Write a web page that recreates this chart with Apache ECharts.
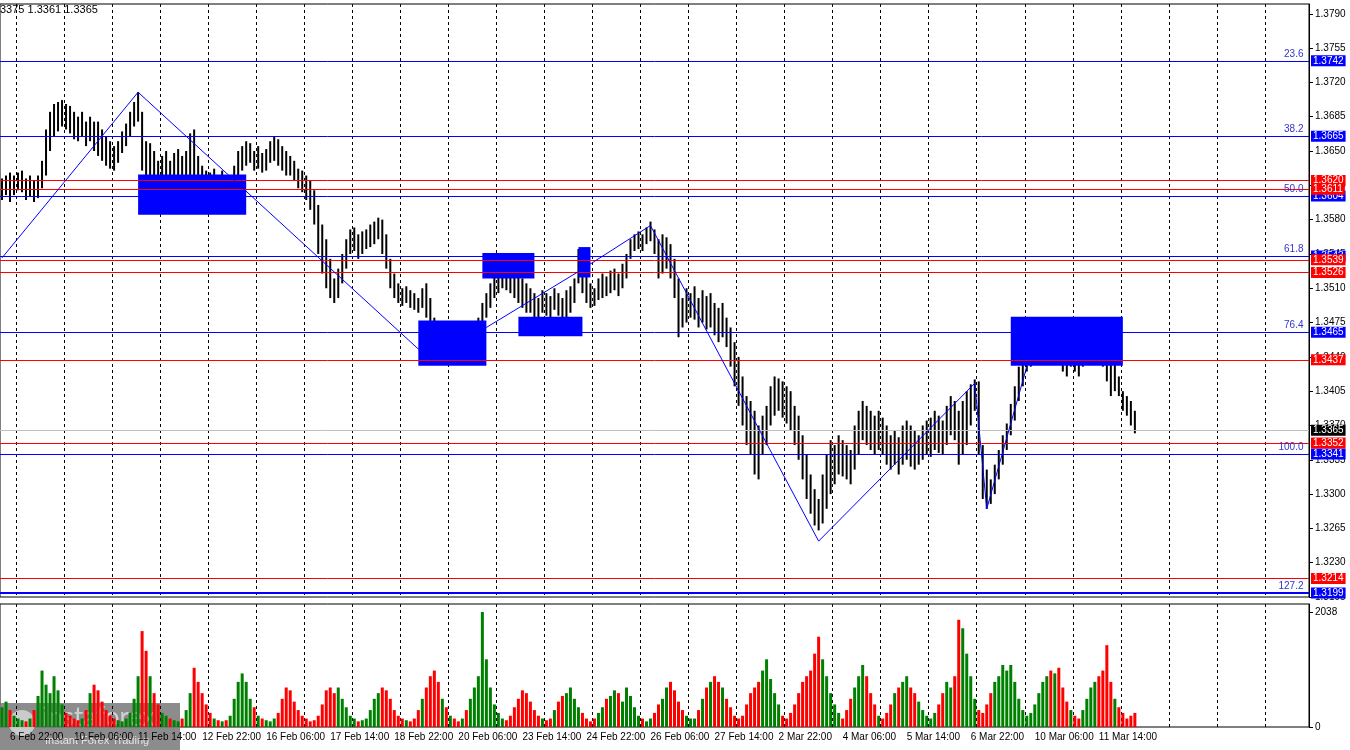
<!DOCTYPE html>
<html><head><meta charset="utf-8">
<script src="https://cdn.jsdelivr.net/npm/echarts@6/dist/echarts.min.js"></script>
<style>html,body{margin:0;padding:0;background:#fff}#c{width:1350px;height:750px}</style>
</head><body><div id="c"></div>
<script>
// bar highs / lows in pips above 1.3000
const highs = [
622,625,628,625,628,630,622,625,620,625,640,672,
690,698,700,702,698,696,690,685,690,680,685,680,
680,672,665,660,655,660,670,678,690,700,710,690,
660,658,650,640,645,650,640,648,652,645,650,668,
672,645,635,630,628,632,625,630,620,625,635,650,
655,660,658,650,655,648,652,660,665,662,655,650,
645,640,632,630,625,620,610,595,575,560,540,520,
530,545,560,570,572,565,568,570,575,578,582,580,
565,540,525,515,510,512,508,505,500,510,515,500,
480,470,472,468,475,470,465,470,468,465,475,480,
495,505,515,525,535,545,540,535,530,525,520,515,
510,505,500,508,505,502,510,505,500,508,512,520,
550,540,525,515,510,520,525,522,528,530,525,535,
545,560,565,568,565,572,578,570,560,565,562,555,
540,520,500,510,505,512,500,508,502,505,495,490,
495,480,470,455,440,420,400,395,385,370,380,390,
410,420,418,415,410,405,390,380,360,340,320,305,
295,320,340,355,350,360,355,350,345,370,385,395,
390,385,380,385,378,370,360,365,358,370,375,370,
365,360,370,375,378,385,380,375,390,400,395,385,
395,405,412,417,415,350,325,315,330,345,360,372,
392,410,430,445,455,460,465,470,478,480,475,480,
478,470,472,468,460,455,450,458,465,470,468,462,
455,445,440,420,405,400,395,385];
const lows = [
600,605,598,605,610,608,600,604,598,602,612,625,
650,665,670,675,672,668,662,660,665,655,660,650,
645,640,635,632,630,638,648,655,665,675,680,630,
600,605,610,615,610,612,605,610,615,608,612,625,
620,610,605,602,600,605,598,602,598,600,610,622,
630,635,638,630,632,628,630,638,640,635,630,625,
625,620,612,608,600,590,575,545,525,510,500,495,
500,515,530,545,548,540,545,550,552,555,560,545,
530,510,500,495,492,495,490,488,485,490,480,465,
450,440,445,440,448,445,440,442,440,445,450,455,
470,480,490,500,505,510,508,505,500,495,490,485,
485,480,478,485,482,480,488,482,478,480,485,495,
515,505,495,490,492,498,500,502,505,508,502,510,
520,540,548,550,548,555,558,545,520,525,530,520,
500,460,470,475,480,478,470,475,468,470,462,455,
460,450,430,410,390,370,350,340,320,315,340,350,
370,380,385,378,372,365,350,335,315,295,280,268,
263,270,285,300,310,320,318,315,310,325,340,355,
350,345,340,345,340,330,325,330,320,330,335,328,
325,330,335,340,338,345,342,340,350,360,355,330,
340,350,370,385,340,295,285,290,300,315,330,345,
360,375,395,410,425,430,435,440,445,450,445,448,
440,425,420,430,425,420,430,435,440,445,438,430,
415,400,405,400,385,380,370,362];
const volumes = [
350,450,300,200,150,120,100,150,300,550,1000,750,
600,900,650,400,250,200,150,120,150,300,600,750,
650,450,300,200,150,120,100,150,250,500,900,1700,
1350,900,600,400,250,200,150,120,100,150,300,600,
1050,800,600,400,250,150,120,100,120,200,500,800,
950,800,500,350,200,150,120,100,150,250,500,700,
650,450,300,200,150,100,120,200,400,650,700,600,
700,500,350,200,150,100,120,150,300,500,600,700,
650,500,300,200,150,120,100,150,300,500,700,900,
1000,800,500,350,200,150,100,150,300,500,700,900,
2038,1200,700,400,250,150,120,200,350,500,650,600,
450,300,200,150,120,150,300,450,550,600,700,500,
350,250,150,100,150,250,350,500,550,650,600,450,
700,550,350,200,150,100,150,250,400,500,700,800,
650,450,300,200,150,150,300,500,700,800,900,800,
700,500,350,200,150,200,400,600,700,800,1000,1200,
850,600,400,200,150,250,400,600,800,900,1000,1300,
1600,1200,900,600,400,250,150,300,500,700,900,1100,
900,600,400,200,150,250,400,600,700,800,900,700,
600,450,300,200,150,250,400,600,800,700,900,1900,
1750,1300,900,500,300,250,400,600,800,900,1100,1000,
1100,800,500,300,200,250,400,600,800,900,1000,950,
1050,700,450,300,200,150,300,500,700,800,900,1000,
1450,800,500,350,250,150,200,250];
const dateLabels = ["6 Feb 22:00","10 Feb 06:00","11 Feb 14:00","12 Feb 22:00","16 Feb 06:00","17 Feb 14:00","18 Feb 22:00","20 Feb 06:00","23 Feb 14:00","24 Feb 22:00","26 Feb 06:00","27 Feb 14:00","2 Mar 22:00","4 Mar 06:00","5 Mar 14:00","6 Mar 22:00","10 Mar 06:00","11 Mar 14:00"];
const blueLevels = [[1.3742,"23.6"],[1.3665,"38.2"],[1.3604,"50.0"],[1.3543,"61.8"],[1.3465,"76.4"],[1.3341,"100.0"],[1.3199,"127.2"]];
const redLevels = [1.3620,1.3611,1.3539,1.3526,1.3437,1.3352,1.3214];
const lastPrice = 1.3365;
const zones = [[34,61,1.3626,1.3585],[104,121,1.3477,1.3431],[120,133,1.3546,1.3520],[129,145,1.3481,1.3461],[144,147,1.3552,1.3521],[252,280,1.3481,1.3431]];
const zigzag = [[0,1.3541],[34,1.3710],[104,1.3448],[121,1.3470],[144,1.3527],[162,1.3574],[204,1.3252],[243,1.3413],[246,1.3285],[256,1.3430]];

const NSLOT = 327;
const cats = Array.from({length:NSLOT},(_,i)=>String(i));
const P = v => +(1.3 + v/10000).toFixed(4);
const baseVals = lows.map(l=>P(l));
const spanVals = highs.map((h,i)=>+((h-lows[i])/10000).toFixed(4));
const mid = highs.map((h,i)=>(h+lows[i])/2);
const volData = volumes.map((v,i)=>({value:v,itemStyle:{color:(i===0||mid[i]>=mid[i-1])?'#008000':'#ff0000'}}));
const gridInt = (idx)=> (idx-4)%12===0;
const labInt = (idx)=> (idx-2)%16===0;
const lfont = 'Liberation Sans';
const boxLabel = (v,bg)=>({show:true,position:'end',distance:2,formatter:v.toFixed(4),backgroundColor:bg,color:'#fff',padding:[1,2,0,2],fontSize:10,fontFamily:lfont});

const ml = [];
blueLevels.forEach(([v])=>{
  ml.push({yAxis:v,lineStyle:{color:'#0000ff',width:v===1.3199?2:1,type:'solid',opacity:1},label:boxLabel(v,'#0000ff')});
});
redLevels.forEach(v=>{
  ml.push({yAxis:v,lineStyle:{color:'#ff0000',width:1,type:'solid'},label:boxLabel(v,'#ff0000')});
});
ml.push({yAxis:lastPrice,lineStyle:{color:'#c0c0c0',width:1,type:'solid'},label:boxLabel(lastPrice,'#000')});
const mp = blueLevels.map(([v,t])=>({coord:[String(NSLOT-1),v],symbol:'rect',symbolSize:1,itemStyle:{color:'rgba(0,0,0,0)'},
  label:{show:true,position:'left',offset:[2,-7],formatter:t,color:'#3333cc',fontSize:10,fontFamily:lfont}}));

const chart = echarts.init(document.getElementById('c'));
chart.setOption({
  animation:false,
  backgroundColor:'#fff',
  textStyle:{fontFamily:lfont},
  grid:[{left:0,right:41,top:4,bottom:153,show:true,borderColor:'#000',borderWidth:1},
        {left:0,right:41,top:604,bottom:23,show:true,borderColor:'#000',borderWidth:1}],
  xAxis:[
    {type:'category',gridIndex:0,data:cats,boundaryGap:true,axisLine:{show:false},axisTick:{show:false},axisLabel:{show:false},
     splitLine:{show:true,interval:gridInt,lineStyle:{color:'#000',type:[3,3],width:1}}},
    {type:'category',gridIndex:1,data:cats,boundaryGap:true,axisLine:{show:false},
     axisTick:{show:false},
     axisLabel:{interval:labInt,hideOverlap:false,formatter:(v)=>{const i=+v;return dateLabels[(i-2)/16]||'';},align:'left',margin:5,fontSize:10,color:'#000',fontFamily:lfont},
     splitLine:{show:true,interval:gridInt,lineStyle:{color:'#000',type:[3,3],width:1}}}
  ],
  yAxis:[
    {type:'value',gridIndex:0,position:'right',min:1.3195,max:1.3800,interval:0.0035,
     axisLine:{show:true,lineStyle:{color:'#000'}},axisTick:{show:true,length:4,lineStyle:{color:'#000'}},
     axisLabel:{showMaxLabel:false,formatter:v=>v.toFixed(4),fontSize:10,color:'#000',margin:6,fontFamily:lfont},splitLine:{show:false}},
    {type:'value',gridIndex:1,position:'right',min:0,max:2180,interval:2038,
     axisLine:{show:true,lineStyle:{color:'#000'}},axisTick:{show:true,length:4,lineStyle:{color:'#000'}},
     axisLabel:{showMaxLabel:false,formatter:v=>(v===0||v===2038)?String(v):'',fontSize:10,color:'#000',margin:6,fontFamily:lfont},splitLine:{show:false}}
  ],
  series:[
    {type:'bar',xAxisIndex:0,yAxisIndex:0,stack:'px',data:baseVals,barWidth:2,itemStyle:{color:'rgba(0,0,0,0)'},silent:true,z:1},
    {type:'bar',xAxisIndex:0,yAxisIndex:0,stack:'px',data:spanVals,barWidth:2,itemStyle:{color:'#000'},z:2},
    {type:'line',xAxisIndex:0,yAxisIndex:0,data:zigzag.map(p=>[String(p[0]),p[1]]),symbol:'none',
     lineStyle:{color:'#0000ff',width:1},z:6,
     markArea:{silent:true,z:5,itemStyle:{color:'#0000ff',opacity:1},data:zones.map(z=>[{xAxis:String(z[0]),yAxis:z[2]},{xAxis:String(z[1]),yAxis:z[3]}])},
     markLine:{silent:true,symbol:'none',animation:false,precision:4,lineStyle:{color:'#0000ff',type:'solid'},data:ml},
     markPoint:{silent:true,animation:false,data:mp}},
    {type:'bar',xAxisIndex:1,yAxisIndex:1,data:volData,barWidth:3,z:2}
  ],
  graphic:[
    {type:'text',left:0,top:4,style:{text:'3375 1.3361 1.3365',fontSize:11,fill:'#000',fontFamily:lfont}},
    {type:'group',left:0,top:703,z:100,children:[
      {type:'rect',shape:{x:0,y:0,width:180,height:47},style:{fill:'rgba(120,120,120,0.85)'}},
      {type:'circle',shape:{cx:22,cy:20,r:13},style:{fill:'rgba(255,255,255,0.55)'}},
      {type:'text',x:42,y:2,style:{text:'instaforex',fontSize:26,fill:'rgba(255,255,255,0.6)',fontFamily:'Lato'}},
      {type:'text',x:45,y:32,style:{text:'Instant Forex Trading',fontSize:11,fill:'rgba(255,255,255,0.75)',fontFamily:lfont}}
    ]}
  ]
});
</script></body></html>
